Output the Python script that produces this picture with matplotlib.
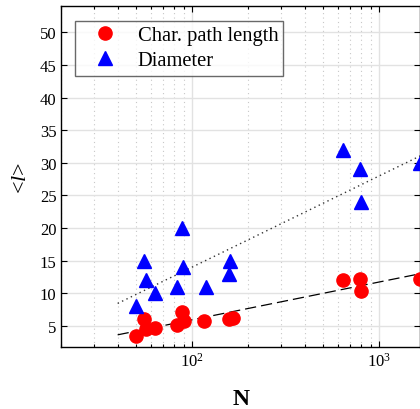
import numpy as np
import matplotlib
matplotlib.use('Agg')
import matplotlib.pyplot as plt

plt.rcParams['font.family'] = ['Liberation Serif', 'DejaVu Serif']
plt.rcParams['mathtext.fontset'] = 'custom'
plt.rcParams['mathtext.rm'] = 'Liberation Serif'
plt.rcParams['mathtext.it'] = 'Liberation Serif:italic'
plt.rcParams['mathtext.bf'] = 'Liberation Serif:bold'

# network sizes and measured path lengths / diameters
N_path = [50, 55, 57, 63, 83, 88, 90, 116, 158, 165, 637, 785, 802, 1650]
char_path = [3.5, 6.0, 4.5, 4.7, 5.05, 7.1, 5.8, 5.8, 6.05, 6.2, 12.0, 12.2, 10.4, 12.2]

N_diam = [50, 55, 57, 63, 83, 88, 89, 118, 158, 160, 637, 785, 802, 1650]
diameter = [8, 15, 12, 10, 11, 20, 14, 11, 13, 15, 32, 29, 24, 30]

# log-linear trend lines: value = slope * log10(N) + intercept
fit_path = [5.8, -5.68]
fit_diam = [14.0, -14.0]
fit_range = [40, 3000]

fig = plt.figure(figsize=(4.2, 4.1), dpi=100)
ax = fig.add_axes([0.146, 0.1505, 0.854, 0.8315])

x_fit = np.logspace(np.log10(fit_range[0]), np.log10(fit_range[1]), 50)
ax.plot(x_fit, np.polyval(fit_path, np.log10(x_fit)), color='k', lw=0.9,
        dashes=(9, 4), zorder=2)
ax.plot(x_fit, np.polyval(fit_diam, np.log10(x_fit)), color='#333333', lw=1.0,
        ls=(0, (1, 2.5)), zorder=2)

ax.plot(N_path, char_path, 'o', color='red', ms=9.5, mec='red',
        label='Char. path length', zorder=3)
ax.plot(N_diam, diameter, '^', color='blue', ms=10.5, mec='blue',
        label='Diameter', zorder=3)

ax.set_xscale('log')
ax.set_xlim(20, 1650)
ax.set_ylim(1.7, 54)
ax.set_yticks(np.arange(5, 51, 5))

ax.grid(True, which='major', axis='both', color='#e2e2e2', lw=1.0, ls='-', zorder=0)
ax.grid(True, which='minor', axis='x', color='#c8c8c8', lw=0.8, ls=(0, (1, 3)), zorder=0)
ax.set_axisbelow(True)

ax.tick_params(which='both', direction='in', top=True, right=True,
               labelsize=12, width=0.8)
ax.tick_params(which='major', length=4.5)
ax.tick_params(which='minor', length=2.5)
for s in ax.spines.values():
    s.set_linewidth(1.0)

ax.set_xlabel('N', fontsize=17, fontweight='bold', labelpad=13)
ax.set_ylabel(r'<$\mathit{l}$>', fontsize=16, labelpad=6)

leg = ax.legend(loc='upper left', bbox_to_anchor=(0.038, 0.958), fontsize=14.8,
                frameon=True, fancybox=False, edgecolor='#444444',
                handletextpad=0.4, borderpad=0.25, labelspacing=0.28,
                handlelength=2.4, borderaxespad=0)
leg.get_frame().set_linewidth(1.0)

fig.savefig('out.png', dpi=100)
